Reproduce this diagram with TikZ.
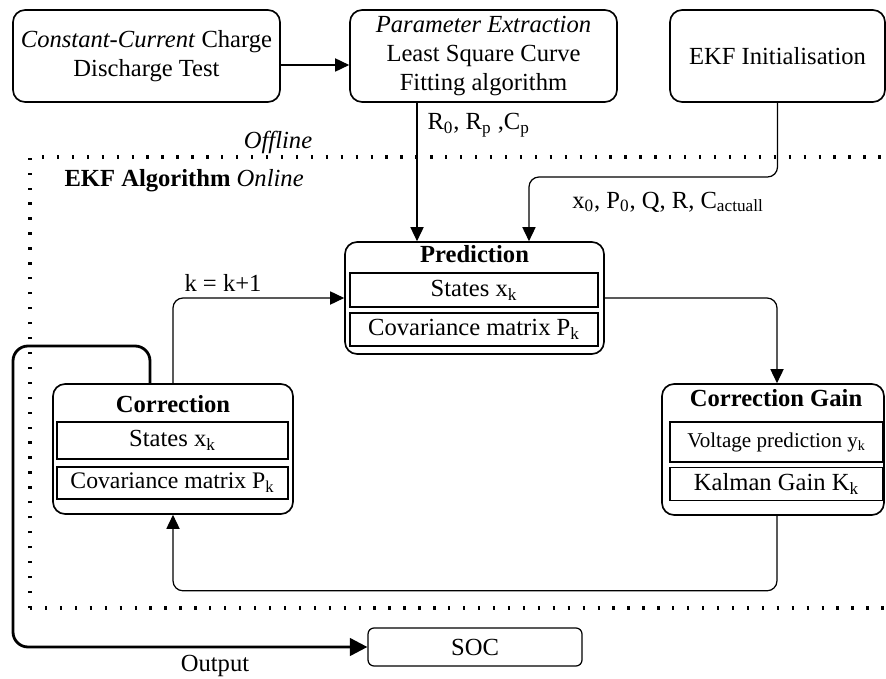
\documentclass[tikz,border=0pt]{standalone}
\usepackage{fontspec}
\setmainfont{Liberation Serif}
\usetikzlibrary{arrows.meta}

\begin{document}
\fontsize{14}{16.5}\selectfont
\begin{tikzpicture}[x=0.02cm, y=-0.02cm,
    stage/.style={draw, rounded corners=0.24cm, line width=0.95pt, align=center, inner sep=2pt},
    field/.style={draw, line width=0.95pt, inner sep=1pt},
    flow/.style={-{Triangle[length=8pt, width=7.5pt]}, line width=0.7pt, rounded corners=0.2cm},
    online/.style={line width=1.8pt, dash pattern=on 1.3pt off 7.2pt}]
\useasboundingbox (0,0) rectangle (886,679);

% offline part
\node[stage, minimum width=5.34cm, minimum height=1.84cm] (cctest) at (146.5,56) {\textit{Constant-Current} Charge\\Discharge Test};
\node[stage, minimum width=5.34cm, minimum height=1.84cm] (param) at (483.5,56) {\textit{Parameter Extraction}\\Least Square Curve\\Fitting algorithm};
\node[stage, minimum width=4.3cm, minimum height=1.84cm] (init) at (777.5,56) {EKF Initialisation};

% online frame
\draw[online] (30,608) -- (30,157) -- (886,157);
\draw[online] (30,608) -- (886,608);
\node (offline) at (278,142) {\textit{Offline}};
\node[anchor=west] (ekfalg) at (56,181) {\textbf{EKF Algorithm} \textit{Online}};

% prediction
\node[stage, minimum width=5.18cm, minimum height=2.24cm] (pred) at (474.5,298) {};
\node (ptitle) at (474.5,254) {\textbf{Prediction}};
\node[field, minimum width=4.96cm, minimum height=0.68cm] (pstates) at (474,290) {States x\textsubscript{k}};
\node[field, minimum width=4.96cm, minimum height=0.66cm] (pcov) at (474,329.5) {Covariance matrix P\textsubscript{k}};

% correction
\node[stage, minimum width=4.8cm, minimum height=2.6cm] (corr) at (173,449) {};
\node (ctitle) at (173,404) {\textbf{Correction}};
\node[field, minimum width=4.62cm, minimum height=0.74cm] (cstates) at (172.5,440.5) {States x\textsubscript{k}};
\node[field, minimum width=4.62cm, minimum height=0.64cm] (ccov) at (172.5,483) {\fontsize{13.5}{15}\selectfont Covariance matrix P\textsubscript{k}};

% correction gain
\node[stage, minimum width=4.44cm, minimum height=2.62cm] (gain) at (773,449.5) {};
\node (gtitle) at (776,398) {\textbf{Correction Gain}};
\node[field, minimum width=4.26cm, minimum height=0.8cm] (gvolt) at (776.5,442) {\fontsize{12}{14}\selectfont Voltage prediction y\textsubscript{k}};
\node[field, minimum width=4.26cm, minimum height=0.66cm] (gkalman) at (776.5,484) {Kalman Gain K\textsubscript{k}};

% output
\node[draw, rounded corners=0.12cm, line width=0.7pt, minimum width=4.28cm, minimum height=0.76cm] (soc) at (475,647) {SOC};

% connectors
\draw[flow] ([yshift=-0.18cm]cctest.east) -- ([yshift=-0.18cm]param.west);
\draw[flow] ([xshift=-1.33cm]param.south) -- ([xshift=-1.33cm]param.south |- pred.north);
\node[anchor=west] (rlabel) at (419,125) {R\textsubscript{0}, R\textsubscript{p} ,C\textsubscript{p}};
\draw[flow] (init.south) -- (init.south |- 0,177) -| ([xshift=1.09cm]pred.north);
\node (xlabel) at (668,202) {x\textsubscript{0}, P\textsubscript{0}, Q, R, C\textsubscript{actuall}};
\draw[flow] (pred.east) -| (gain.north -| 777,0);
\draw[flow] (gain.south -| 777,0) |- ([yshift=-1.52cm]corr.south) -- (corr.south);
\draw[flow] (corr.north -| 173,0) |- (pred.west);
\node (kstep) at (223,283) {k = k+1};
\draw[flow, -{Triangle[length=10pt, width=10pt]}, line width=1.6pt, rounded corners=0.3cm] (corr.north -| 150,0) |- (13,346) |- (soc.west);
\node (outlabel) at (215,666) {Output};
\end{tikzpicture}
\end{document}
